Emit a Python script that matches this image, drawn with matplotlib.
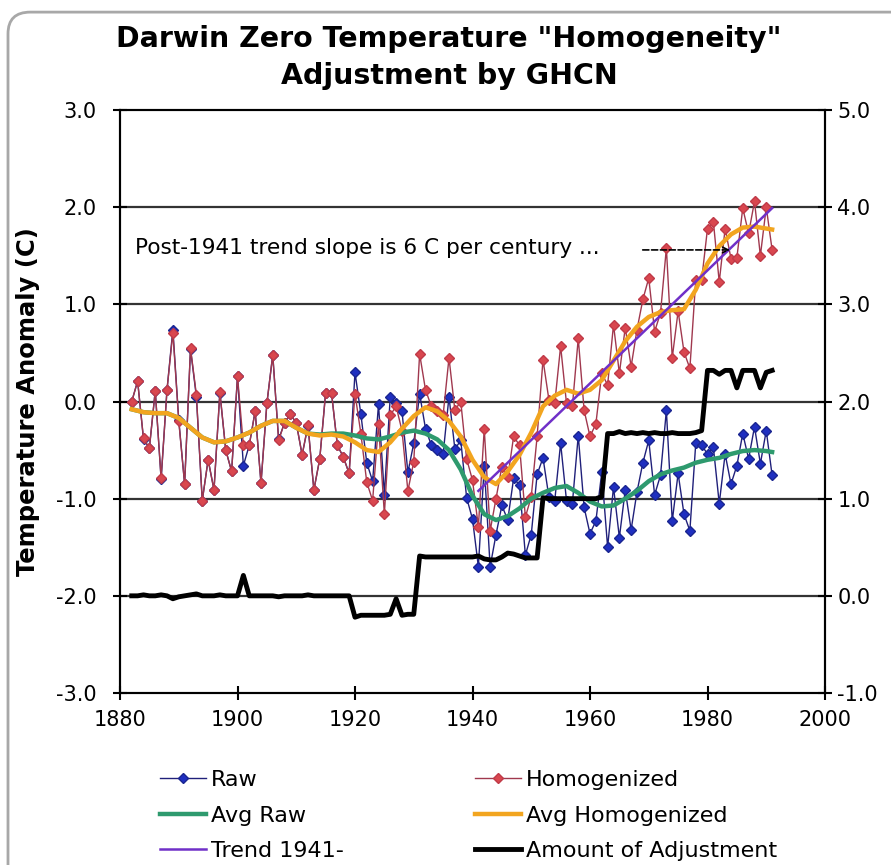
import matplotlib.pyplot as plt
from matplotlib.patches import FancyBboxPatch

# yearly values, 1882-1991
years = list(range(1882, 1992))

homogenized = [0.00, 0.21, -0.38, -0.48, 0.11, -0.79, 0.12, 0.71, -0.20, -0.85,
               0.55, 0.07, -1.02, -0.60, -0.91, 0.10, -0.50, -0.72, 0.26, -0.45,
               -0.45, -0.10, -0.84, -0.02, 0.48, -0.40, -0.22, -0.13, -0.22, -0.55,
               -0.24, -0.91, -0.59, 0.09, 0.09, -0.45, -0.57, -0.74, 0.08, -0.33,
               -0.83, -1.02, -0.23, -1.16, -0.14, -0.05, -0.30, -0.92, -0.62, 0.49,
               0.12, -0.05, -0.10, -0.14, 0.45, -0.09, 0.00, -0.59, -0.81, -1.29,
               -0.28, -1.33, -1.00, -0.67, -0.78, -0.36, -0.45, -1.19, -0.98, -0.36,
               0.43, 0.02, -0.02, 0.57, -0.02, -0.05, 0.65, -0.09, -0.36, -0.23,
               0.29, 0.17, 0.79, 0.29, 0.76, 0.36, 0.74, 1.05, 1.27, 0.72,
               0.91, 1.58, 0.45, 0.93, 0.51, 0.34, 1.25, 1.25, 1.78, 1.85,
               1.23, 1.78, 1.47, 1.48, 1.99, 1.73, 2.06, 1.50, 2.00, 1.56]

raw = [0.00, 0.21, -0.39, -0.48, 0.11, -0.80, 0.12, 0.74, -0.19, -0.85,
       0.54, 0.05, -1.02, -0.60, -0.91, 0.09, -0.50, -0.72, 0.26, -0.66,
       -0.45, -0.10, -0.84, -0.02, 0.48, -0.39, -0.22, -0.13, -0.22, -0.55,
       -0.25, -0.91, -0.59, 0.09, 0.09, -0.45, -0.57, -0.74, 0.30, -0.13,
       -0.63, -0.82, -0.03, -0.96, 0.05, -0.02, -0.10, -0.73, -0.43, 0.08,
       -0.28, -0.45, -0.50, -0.54, 0.05, -0.49, -0.40, -0.99, -1.21, -1.70,
       -0.66, -1.70, -1.37, -1.07, -1.22, -0.79, -0.86, -1.58, -1.37, -0.75,
       -0.58, -0.98, -1.02, -0.43, -1.02, -1.05, -0.35, -1.09, -1.36, -1.23,
       -0.73, -1.50, -0.88, -1.40, -0.91, -1.32, -0.93, -0.63, -0.40, -0.96,
       -0.76, -0.09, -1.23, -0.74, -1.16, -1.33, -0.43, -0.45, -0.54, -0.47,
       -1.05, -0.54, -0.85, -0.66, -0.33, -0.59, -0.26, -0.64, -0.30, -0.76]

# amount of adjustment (right axis)
adjustment = [0.00, 0.00, 0.01, 0.00, 0.00, 0.01, 0.00, -0.03, -0.01, 0.00,
              0.01, 0.02, 0.00, 0.00, 0.00, 0.01, 0.00, 0.00, 0.00, 0.21,
              0.00, 0.00, 0.00, 0.00, 0.00, -0.01, 0.00, 0.00, 0.00, 0.00,
              0.01, 0.00, 0.00, 0.00, 0.00, 0.00, 0.00, 0.00, -0.22, -0.20,
              -0.20, -0.20, -0.20, -0.20, -0.19, -0.03, -0.20, -0.19, -0.19, 0.41,
              0.40, 0.40, 0.40, 0.40, 0.40, 0.40, 0.40, 0.40, 0.40, 0.41,
              0.38, 0.37, 0.37, 0.40, 0.44, 0.43, 0.41, 0.39, 0.39, 0.39,
              1.01, 1.00, 1.00, 1.00, 1.00, 1.00, 1.00, 1.00, 1.00, 1.00,
              1.02, 1.67, 1.67, 1.69, 1.67, 1.68, 1.67, 1.68, 1.67, 1.68,
              1.67, 1.67, 1.68, 1.67, 1.67, 1.67, 1.68, 1.70, 2.32, 2.32,
              2.28, 2.32, 2.32, 2.14, 2.32, 2.32, 2.32, 2.14, 2.30, 2.32]

# smoothed curves, read every two years
avg_years = [1882, 1884, 1886, 1888, 1890, 1892, 1894, 1896, 1898, 1900,
             1902, 1904, 1906, 1908, 1910, 1912, 1914, 1916, 1918, 1920,
             1922, 1924, 1926, 1928, 1930, 1932, 1934, 1936, 1938, 1940,
             1942, 1944, 1946, 1948, 1950, 1952, 1954, 1956, 1958, 1960,
             1962, 1964, 1966, 1968, 1970, 1972, 1974, 1976, 1978, 1980,
             1982, 1984, 1986, 1988, 1990, 1991]
avg_homogenized = [-0.08, -0.11, -0.12, -0.12, -0.17, -0.27, -0.37, -0.42, -0.41, -0.37,
                   -0.32, -0.25, -0.20, -0.20, -0.27, -0.33, -0.35, -0.34, -0.36, -0.42,
                   -0.50, -0.52, -0.42, -0.28, -0.15, -0.06, -0.10, -0.20, -0.36, -0.60,
                   -0.78, -0.85, -0.72, -0.55, -0.32, -0.05, 0.06, 0.12, 0.08, 0.12,
                   0.22, 0.42, 0.62, 0.77, 0.87, 0.92, 0.94, 0.95, 1.15, 1.42,
                   1.60, 1.72, 1.79, 1.80, 1.78, 1.77]
avg_raw = [-0.08, -0.11, -0.12, -0.12, -0.17, -0.27, -0.37, -0.42, -0.41, -0.37,
           -0.32, -0.25, -0.20, -0.20, -0.27, -0.33, -0.34, -0.33, -0.33, -0.35,
           -0.38, -0.39, -0.36, -0.32, -0.30, -0.33, -0.39, -0.50, -0.70, -0.97,
           -1.16, -1.22, -1.18, -1.10, -1.00, -0.94, -0.89, -0.87, -0.94, -1.03,
           -1.08, -1.07, -1.00, -0.92, -0.82, -0.75, -0.71, -0.68, -0.63, -0.60,
           -0.58, -0.54, -0.51, -0.50, -0.51, -0.52]

trend_years = [1941, 1991]
trend_values = [-0.92, 1.99]

fig = plt.figure(figsize=(8.91, 8.65), dpi=100)
ax = fig.add_axes([120 / 891, 1 - 693 / 865, 705 / 891, 583 / 865])

h_raw, = ax.plot(years, raw, color='#20207a', lw=1, marker='D', ms=5.5,
                 mfc='#1f2fc0', mec='#1a2590', label='Raw', zorder=3)
h_hom, = ax.plot(years, homogenized, color='#a0384e', lw=1, marker='D', ms=5.5,
                 mfc='#d9474f', mec='#c03a48', label='Homogenized', zorder=4)
h_araw, = ax.plot(avg_years, avg_raw, color='#2e9a6e', lw=3.2, label='Avg Raw', zorder=5)
h_ahom, = ax.plot(avg_years, avg_homogenized, color='#f2a51f', lw=3.2,
                  label='Avg Homogenized', zorder=6)
h_trend, = ax.plot(trend_years, trend_values, color='#7030c8', lw=1.8,
                   label='Trend 1941-', zorder=7)

ax2 = ax.twinx()
ax2.plot(years, adjustment, color='black', lw=3.5, solid_joinstyle='round')
h_adj, = ax.plot([], [], color='black', lw=3.5, label='Amount of Adjustment')

ax.set_xlim(1880, 2000)
ax.set_ylim(-3, 3)
ax2.set_ylim(-1, 5)
ax.set_xticks(range(1880, 2001, 20))
ax.set_yticks(range(-3, 4))
ax2.set_yticks(range(-1, 6))
ax.set_yticklabels([f'{v:.1f}' for v in range(-3, 4)])
ax2.set_yticklabels([f'{v:.1f}' for v in range(-1, 6)])

for a in (ax, ax2):
    for s in a.spines.values():
        s.set_linewidth(1.5)
        s.set_color('black')
ax.tick_params(axis='both', direction='inout', length=10, width=1.5, labelsize=15)
ax.tick_params(axis='y', pad=12)
ax.tick_params(axis='x', pad=7)
ax2.tick_params(axis='y', direction='inout', length=10, width=1.5, labelsize=15, pad=4)

for v in range(-2, 3):
    ax.axhline(v, color='#333333', lw=1.6, zorder=1)

ax.set_ylabel('Temperature Anomaly (C)', fontsize=17.5, fontweight='bold')
ax.yaxis.set_label_coords(-0.113, 0.5)

ax.text(1882.6, 1.58, 'Post-1941 trend slope is 6 C per century ...',
        fontsize=15.6, va='center', ha='left', zorder=8)
ax.annotate('', xy=(1984.3, 1.56), xytext=(1968.5, 1.56),
            arrowprops=dict(arrowstyle='->', linestyle='--', color='black', lw=1.2),
            zorder=8)

fig.text(449 / 891, 1 - 57.5 / 865, 'Darwin Zero Temperature "Homogeneity"\nAdjustment by GHCN',
         ha='center', va='center', fontsize=20.5, fontweight='bold', linespacing=1.42)

# legend fills column by column
handles = [h_raw, h_araw, h_trend, h_hom, h_ahom, h_adj]
fig.legend(handles, [h.get_label() for h in handles], ncol=2, loc='upper left',
           bbox_to_anchor=(160 / 891, 1 - 770 / 865),
           frameon=False, fontsize=16, handlelength=2.05, handletextpad=0.25,
           columnspacing=5.9, labelspacing=0.7, borderpad=0, borderaxespad=0)

border = FancyBboxPatch((8 / 891, -0.1), 1.1, 1.086, boxstyle='round,pad=0,rounding_size=0.025',
                        transform=fig.transFigure, fill=False, edgecolor='#a8a8a8', lw=2)
fig.patches.append(border)

fig.savefig('out.png', dpi=100)
